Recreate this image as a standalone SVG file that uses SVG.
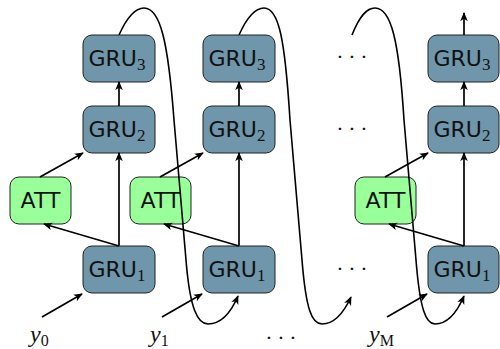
<svg xmlns="http://www.w3.org/2000/svg" width="500" height="349" viewBox="0 0 500 349">
  <defs>
    <marker id="arrow" viewBox="0 0 10 10" refX="9" refY="5" markerWidth="9" markerHeight="9" markerUnits="userSpaceOnUse" orient="auto">
      <path d="M0,0.8 L10,5 L0,9.2 L2.6,5 z" fill="#000"/>
    </marker>
    <style>
      .gru { fill: #6f96ab; stroke: #222; stroke-width: 1; }
      .att { fill: #99ff99; stroke: #222; stroke-width: 1; }
      .lbl { font-family: "DejaVu Sans", sans-serif; font-size: 22px; fill: #111; text-anchor: middle; }
      .sub { font-family: "Liberation Serif", serif; font-size: 17px; }
      .var { font-family: "Liberation Serif", serif; font-style: italic; font-size: 24px; fill: #111; }
      .idx { font-style: normal; font-size: 16px; }
      .dots { font-family: "Liberation Serif", serif; font-size: 22px; fill: #111; text-anchor: middle; }
      .edge { fill: none; stroke: #000; stroke-width: 1.7; marker-end: url(#arrow); }
      .loop { fill: none; stroke: #000; stroke-width: 1.6; marker-end: url(#arrow); }
    </style>
  </defs>

  <rect width="500" height="349" fill="#fff"/>

  <!-- column t = 0 -->
  <g id="gru3_0"><rect class="gru" x="83" y="35" width="72" height="47" rx="9"/><text class="lbl" x="117" y="66">GRU<tspan class="sub" dy="4">3</tspan></text></g>
  <g id="gru2_0"><rect class="gru" x="83" y="106" width="72" height="47" rx="9"/><text class="lbl" x="117" y="137">GRU<tspan class="sub" dy="4">2</tspan></text></g>
  <g id="att_0"><rect class="att" x="10" y="177" width="61" height="47" rx="9"/><text class="lbl" x="40.5" y="208">ATT</text></g>
  <g id="gru1_0"><rect class="gru" x="83" y="246" width="72" height="47" rx="9"/><text class="lbl" x="117" y="277">GRU<tspan class="sub" dy="4">1</tspan></text></g>

  <!-- column t = 1 -->
  <g id="gru3_1"><rect class="gru" x="203" y="35" width="72" height="47" rx="9"/><text class="lbl" x="237" y="66">GRU<tspan class="sub" dy="4">3</tspan></text></g>
  <g id="gru2_1"><rect class="gru" x="203" y="106" width="72" height="47" rx="9"/><text class="lbl" x="237" y="137">GRU<tspan class="sub" dy="4">2</tspan></text></g>
  <g id="att_1"><rect class="att" x="130" y="177" width="61" height="47" rx="9"/><text class="lbl" x="160.5" y="208">ATT</text></g>
  <g id="gru1_1"><rect class="gru" x="203" y="246" width="72" height="47" rx="9"/><text class="lbl" x="237" y="277">GRU<tspan class="sub" dy="4">1</tspan></text></g>

  <!-- column t = M -->
  <g id="gru3_M"><rect class="gru" x="428" y="35" width="71" height="47" rx="9"/><text class="lbl" x="462" y="66">GRU<tspan class="sub" dy="4">3</tspan></text></g>
  <g id="gru2_M"><rect class="gru" x="428" y="106" width="71" height="47" rx="9"/><text class="lbl" x="462" y="137">GRU<tspan class="sub" dy="4">2</tspan></text></g>
  <g id="att_M"><rect class="att" x="355" y="177" width="61" height="47" rx="9"/><text class="lbl" x="385.5" y="208">ATT</text></g>
  <g id="gru1_M"><rect class="gru" x="428" y="246" width="71" height="47" rx="9"/><text class="lbl" x="462" y="277">GRU<tspan class="sub" dy="4">1</tspan></text></g>

  <!-- elided columns -->
  <g id="ellipsis">
    <text class="dots" x="340 352 364" y="64">···</text>
    <text class="dots" x="340 352 364" y="136">···</text>
    <text class="dots" x="340 352 364" y="276">···</text>
    <text class="dots" x="269 281 293" y="345">···</text>
  </g>

  <!-- input labels -->
  <g id="inputs">
    <text class="var" x="30" y="342">y<tspan class="idx" dy="4">0</tspan></text>
    <text class="var" x="150" y="342">y<tspan class="idx" dy="4">1</tspan></text>
    <text class="var" x="369" y="342">y<tspan class="idx" font-style="italic" dy="4">M</tspan></text>
  </g>

  <g id="connectors">
    <!-- t = 0 -->
    <line class="edge" x1="42" y1="317" x2="82" y2="294"/>
    <line class="edge" x1="119" y1="246" x2="119" y2="153"/>
    <line class="edge" x1="119" y1="246" x2="44" y2="224"/>
    <line class="edge" x1="40" y1="177" x2="83" y2="153"/>
    <line class="edge" x1="119" y1="106" x2="119" y2="82"/>
    <!-- t = 1 -->
    <line class="edge" x1="162" y1="317" x2="202" y2="294"/>
    <line class="edge" x1="239" y1="246" x2="239" y2="153"/>
    <line class="edge" x1="239" y1="246" x2="164" y2="224"/>
    <line class="edge" x1="160" y1="177" x2="203" y2="153"/>
    <line class="edge" x1="239" y1="106" x2="239" y2="82"/>
    <!-- t = M -->
    <line class="edge" x1="387" y1="317" x2="427" y2="294"/>
    <line class="edge" x1="464" y1="246" x2="464" y2="153"/>
    <line class="edge" x1="464" y1="246" x2="389" y2="224"/>
    <line class="edge" x1="385" y1="177" x2="428" y2="153"/>
    <line class="edge" x1="464" y1="106" x2="464" y2="82"/>
    <line class="edge" x1="464" y1="35" x2="464" y2="13"/>
    <!-- recurrent feedback from top layer to next step -->
    <path class="loop" d="M119,35 C128,15 136,8 144,8 C160,8 168,40 174,120 L186,260 C190,310 198,324 208,324 C222,324 232,310 238,296"/>
    <path class="loop" d="M239,35 C248,15 256,8 264,8 C279,8 285,40 290,120 L302,260 C306,310 312,324 322,324 C336,324 345,310 351,297"/>
    <path class="loop" d="M352,35 C360,15 367,8 375,8 C391,8 399,40 404,120 L416,260 C420,310 426,324 435,324 C449,324 458,310 464,296"/>
  </g>
</svg>
